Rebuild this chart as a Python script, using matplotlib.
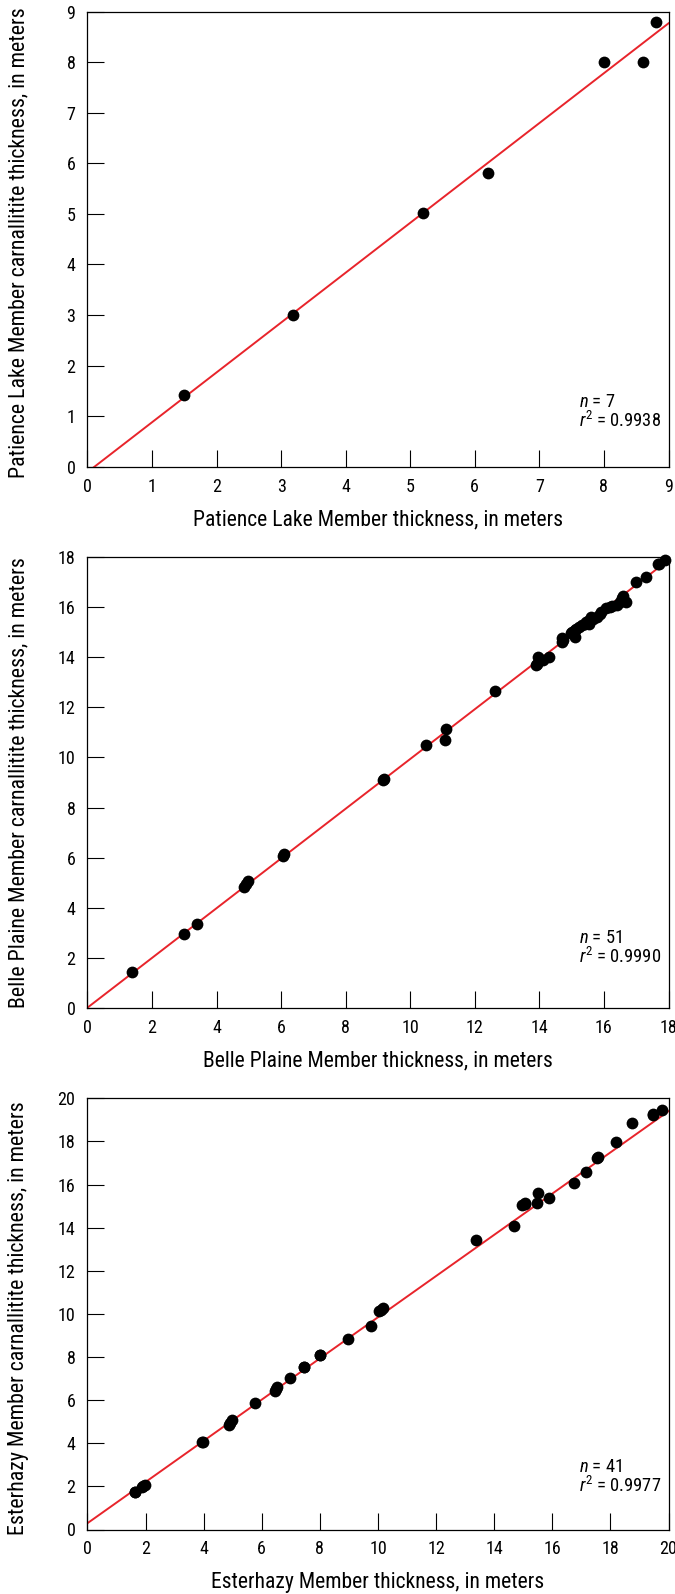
import matplotlib
matplotlib.use("Agg")
import matplotlib.pyplot as plt
from matplotlib import font_manager as fm
from matplotlib.textpath import TextPath
from matplotlib.font_manager import FontProperties
import numpy as np

# ---------------- data ----------------
pl_x = [1.49, 3.19, 5.19, 6.20, 8.00, 8.60, 8.80]
pl_y = [1.42, 3.01, 5.01, 5.81, 8.00, 8.00, 8.80]
pl_fit = (-0.1085, 0.9865)   # intercept, slope
pl_stats = ("7", "0.9938")

bp_x = [1.39, 2.99, 3.39, 4.85, 4.92, 4.99, 6.08, 6.06, 9.19, 9.15,
        10.49, 11.09, 11.10, 12.63, 13.89, 13.96, 14.10, 14.29, 14.69, 14.69,
        14.99, 15.09, 15.09, 15.15, 15.23, 15.32, 15.40, 15.43, 15.53, 15.59,
        15.65, 15.79, 15.92, 15.88, 16.20, 16.25, 16.39, 16.49, 16.60, 16.55,
        16.69, 17.00, 17.29, 17.69, 17.89, 14.72, 15.02, 15.50, 16.05, 17.72,
        13.92]
bp_y = [1.41, 2.93, 3.33, 4.82, 4.94, 5.06, 6.13, 6.08, 9.13, 9.10,
        10.50, 10.71, 11.12, 12.64, 13.70, 14.03, 13.90, 14.03, 14.63, 14.76,
        14.96, 14.83, 15.10, 15.15, 15.20, 15.30, 15.35, 15.43, 15.33, 15.60,
        15.55, 15.60, 15.83, 15.75, 16.00, 16.05, 16.10, 16.23, 16.45, 16.38,
        16.23, 17.03, 17.23, 17.73, 17.89, 14.70, 15.00, 15.45, 15.98, 17.75,
        13.75]
bp_fit = (0.0, 0.994)
bp_stats = ("51", "0.9990")

es_x = [1.63, 1.88, 1.99, 1.93, 3.97, 4.86, 4.98, 4.92, 5.76, 6.46,
        6.52, 6.49, 6.96, 7.45, 8.01, 8.96, 9.76, 10.03, 10.18, 10.10,
        13.36, 14.67, 14.96, 15.07, 15.47, 15.50, 15.87, 16.76, 17.17, 17.57,
        18.18, 18.76, 19.47, 19.78, 1.65, 3.95, 8.00, 15.05, 17.55, 19.45,
        7.44]
es_y = [1.73, 1.97, 2.07, 2.02, 4.06, 4.83, 5.06, 4.95, 5.87, 6.41,
        6.61, 6.50, 7.04, 7.54, 8.11, 8.85, 9.44, 10.14, 10.28, 10.20,
        13.44, 14.06, 15.05, 15.15, 15.14, 15.62, 15.36, 16.05, 16.56, 17.26,
        17.96, 18.84, 19.26, 19.46, 1.75, 4.05, 8.08, 15.12, 17.22, 19.24,
        7.52]
es_fit = (0.29, 0.9555)
es_stats = ("41", "0.9977")

panels = [
    dict(x=pl_x, y=pl_y, fit=pl_fit, stats=pl_stats, lim=9, step=1,
         xlabel="Patience Lake Member thickness, in meters",
         ylabel="Patience Lake Member carnallitite thickness, in meters"),
    dict(x=bp_x, y=bp_y, fit=bp_fit, stats=bp_stats, lim=18, step=2,
         xlabel="Belle Plaine Member thickness, in meters",
         ylabel="Belle Plaine Member carnallitite thickness, in meters"),
    dict(x=es_x, y=es_y, fit=es_fit, stats=es_stats, lim=20, step=2,
         xlabel="Esterhazy Member thickness, in meters",
         ylabel="Esterhazy Member carnallitite thickness, in meters"),
]

# ---------------- fonts ----------------
names = {f.name for f in fm.fontManager.ttflist}
cond = None
for n in ["Liberation Sans Narrow", "Roboto Condensed", "Open Sans Condensed",
          "DejaVu Sans Condensed"]:
    if n in names:
        cond = n
        break
stretch = "normal"
if cond is None:
    cond = "DejaVu Sans"
    stretch = "condensed"
plt.rcParams["font.family"] = [cond, "DejaVu Sans"]
plt.rcParams["font.stretch"] = stretch
plt.rcParams["mathtext.fontset"] = "custom"
plt.rcParams["mathtext.rm"] = cond
plt.rcParams["mathtext.it"] = cond + ":italic"

DPI = 100
fp = FontProperties(family=cond, stretch=stretch)
h100 = TextPath((0, 0), "0123456789", size=100, prop=fp).get_extents().height
def size_for_digit_px(px):
    return px * 72.0 / DPI / (h100 / 100.0)

tick_size = size_for_digit_px(13.2)

W, H = 675, 1594
fig = plt.figure(figsize=(W / DPI, H / DPI), dpi=DPI)
renderer = fig.canvas.get_renderer()

def fit_width(txt, target_px, vertical=False):
    for _ in range(3):
        bb = txt.get_window_extent(renderer=renderer)
        cur = bb.height if vertical else bb.width
        txt.set_fontsize(txt.get_fontsize() * target_px / cur)
    return txt.get_fontsize()

# axes boxes in pixels: (top, bottom)
boxes = [(11.7, 466.7), (557.3, 1007.7), (1098.3, 1529.5)]
left_px, right_px = 87.4, 668.5
ylab_center_px = [242.5, 782.5, 1318.0]
r_base_px = [40.0, 44.5, 37.5]   # r^2 baseline height above x-axis

xl_size = None
yl_size = None
ann_size = None
for i, (p, (tpx, bpx)) in enumerate(zip(panels, boxes)):
    hpx = bpx - tpx
    wpx = right_px - left_px
    ax = fig.add_axes([left_px / W, 1 - bpx / H, wpx / W, hpx / H])
    lim = p["lim"]
    ax.set_xlim(0, lim)
    ax.set_ylim(0, lim)
    ticks = np.arange(0, lim + 0.001, p["step"])
    ax.set_xticks(ticks)
    ax.set_yticks(ticks)
    ax.set_xticklabels([f"{t:g}" for t in ticks])
    ax.set_yticklabels([f"{t:g}" for t in ticks])
    ax.tick_params(direction="in", length=12.2, width=0.8, labelsize=tick_size,
                   colors="black")
    ax.tick_params(axis="y", pad=8.6)
    ax.tick_params(axis="x", pad=7.8)
    for s in ax.spines.values():
        s.set_linewidth(0.9)
        s.set_color("black")

    a, b = p["fit"]
    xx = np.array([0, lim])
    ax.plot(xx, a + b * xx, color="#e8242b", lw=1.4, zorder=2, clip_on=True)
    ax.scatter(p["x"], p["y"], s=72, color="black", zorder=3, linewidths=0,
               clip_on=False)

    n_s, r_s = p["stats"]
    xt = (578.5 - left_px) / wpx
    rb = r_base_px[i]
    t2 = ax.text(xt, rb / hpx, r"$r^2$ = " + r_s, transform=ax.transAxes,
                 fontsize=12, ha="left", va="baseline")
    if ann_size is None:
        ann_size = fit_width(t2, 82)
    t2.set_fontsize(ann_size)
    ax.text(xt, (rb + 20.0) / hpx, r"$n$ = " + n_s, transform=ax.transAxes,
            fontsize=ann_size, ha="left", va="baseline")

    tx = ax.text(0.5, -58.5 / hpx, p["xlabel"], transform=ax.transAxes,
                 fontsize=15, ha="center", va="baseline")
    if xl_size is None:
        xl_size = fit_width(tx, 370)
    tx.set_fontsize(xl_size)

    yc = (bpx - ylab_center_px[i]) / hpx
    ty = ax.text((19 - left_px) / wpx, yc, p["ylabel"],
                 transform=ax.transAxes, rotation=90, fontsize=15,
                 ha="center", va="center")
    if yl_size is None:
        yl_size = fit_width(ty, 469, vertical=True)
    ty.set_fontsize(yl_size)

fig.savefig("out.png", dpi=DPI)
